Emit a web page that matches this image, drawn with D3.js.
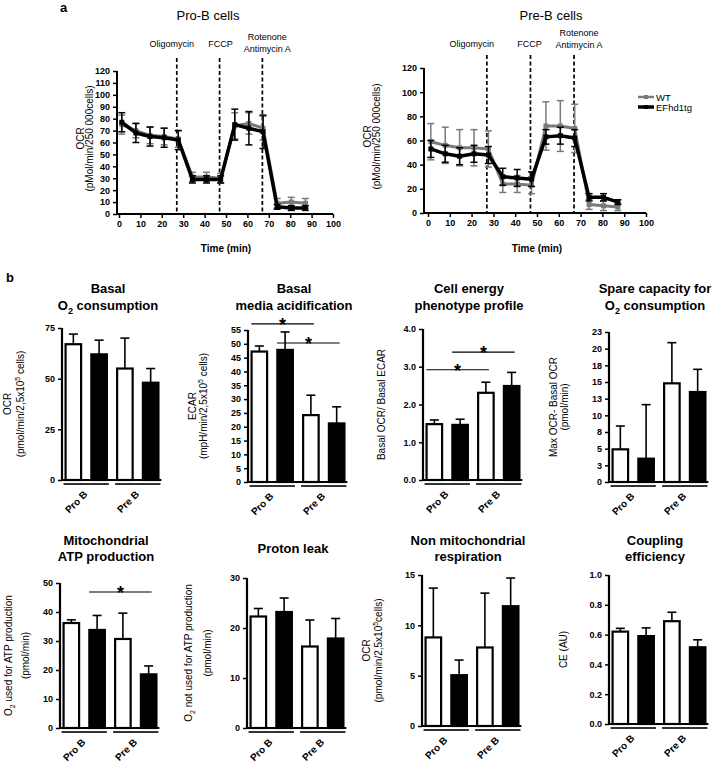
<!DOCTYPE html>
<html>
<head>
<meta charset="utf-8">
<script src="https://cdn.jsdelivr.net/npm/d3@7"></script>
<style>
  body { margin: 0; background: #fff; }
  svg { display: block; font-family: "Liberation Sans", Arial, sans-serif; }
</style>
</head>
<body>
<svg id="fig" width="722" height="766"></svg>
<script>
// ---- panel a : OCR time course ----
const timePoints = [1.3, 7.9, 14.5, 21.1, 27.7, 34.3, 40.9, 47.5, 54.1, 60.7, 67.3, 73.9, 80.5, 87.1]
const injectTimes = [27, 47, 67]
const injectNames = [['Oligomycin'], ['FCCP'], ['Rotenone', 'Antimycin A']]
const timeTicks = [0, 10, 20, 30, 40, 50, 60, 70, 80, 90, 100]

const proWT = [75, 70, 66, 65, 63, 31, 31, 30, 74, 76, 72, 9, 10, 9]
const proWTerr = [8, 6, 7, 7, 7, 4, 4, 4, 11, 9, 10, 4, 4, 4]
const proTg = [77, 68, 65, 64, 62, 29, 29, 29, 75, 72, 69, 6, 5, 5]
const proTgErr = [8, 8, 8, 8, 8, 3, 3, 3, 13, 14, 14, 2, 2, 2]

const preWT = [59, 56, 54, 54, 53, 24, 24, 23, 72, 72, 70, 7, 6, 5]
const preWTerr = [15, 15, 15, 15, 15, 7, 7, 7, 20, 21, 20, 4, 4, 3]
const preTg = [53, 49, 47, 49, 48, 30, 29, 28, 63, 64, 62, 13, 13, 9]
const preTgErr = [7, 7, 7, 7, 7, 7, 7, 6, 6, 7, 7, 3, 3, 2]

const legendNames = ['WT', 'EFhd1tg']

// ---- panel b : bar charts (order: Pro B WT, Pro B tg, Pre B WT, Pre B tg) ----
const groups = ['Pro B', 'Pre B']
const barTitles = [
  ['Basal', 'O_2 consumption'], ['Basal', 'media  acidification'],
  ['Cell energy', 'phenotype profile'], ['Spare capacity for', 'O_2 consumption'],
  ['Mitochondrial', 'ATP production'], ['Proton leak'],
  ['Non mitochondrial', 'respiration'], ['Coupling', 'efficiency']
]
const barYLabels = [
  ['OCR', '(pmol/min/2,5x10^5 cells)'], ['ECAR', '(mpH/min/2,5x10^5 cells)'],
  ['Basal OCR/ Basal ECAR'], ['Max OCR- Basal OCR', '(pmol/min)'],
  ['O_2 used for ATP production', '(pmol/min)'], ['O_2 not used for ATP production', '(pmol/min)'],
  ['OCR', '(pmol/min/2,5x10^5cells)'], ['CE  (AU)']
]
const basalOCR = [67, 62, 55, 48]
const basalOCRerr = [5, 7, 15, 7]
const basalECAR = [47.2, 47.8, 24.2, 21.2]
const basalECARerr = [2, 6.5, 7.2, 6]
const energyRatio = [1.48, 1.46, 2.31, 2.49]
const energyRatioErr = [0.11, 0.15, 0.28, 0.36]
const spareCapacity = [4.9, 3.5, 14.8, 13.5]
const spareCapacityErr = [3.5, 8.1, 6.1, 3.4]
const atpProduction = [36.2, 33.8, 30.7, 18.5]
const atpProductionErr = [1.1, 5, 8.9, 2.9]
const protonLeak = [22.3, 23.2, 16.3, 17.9]
const protonLeakErr = [1.6, 2.8, 5.3, 4]
const nonMito = [8.8, 5.05, 7.8, 11.9]
const nonMitoErr = [4.9, 1.5, 5.4, 2.8]
const coupling = [0.62, 0.59, 0.69, 0.515]
const couplingErr = [0.022, 0.055, 0.06, 0.05]

const barValues = [basalOCR, basalECAR, energyRatio, spareCapacity, atpProduction, protonLeak, nonMito, coupling]
const barErrors = [basalOCRerr, basalECARerr, energyRatioErr, spareCapacityErr, atpProductionErr, protonLeakErr, nonMitoErr, couplingErr]
const barTicks = [
  [0, 25, 50, 75],
  [0, 5, 10, 15, 20, 25, 30, 35, 40, 45, 50, 55],
  [0, 1, 2, 3, 4],
  [0, 2.5, 5, 7.5, 10, 12.5, 15, 17.5, 20, 22.5],
  [0, 10, 20, 30, 40, 50],
  [0, 10, 20, 30],
  [0, 5, 10, 15],
  [0, 0.2, 0.4, 0.6, 0.8, 1.0]
]
const tickFormats = [d3.format('d'), d3.format('d'), d3.format('.1f'), d => Math.round(d), d3.format('d'), d3.format('d'), d3.format('d'), d3.format('.1f')]
// significance: [fromBar, toBar, y value]
const sigBars = [[], [[0, 2, 57.2], [1, 3, 50.3]], [[0, 2, 2.92], [1, 3, 3.39]], [], [[1, 3, 46.9]], [], [], []]

// layout
const axisXs = [62, 248, 423, 609, 60, 247, 422, 609]
const axisBottoms = [480, 482, 480, 482, 728, 728, 726, 724]
const axisTops = [328, 330, 329, 332, 583, 578, 575, 575]
const titleBase = [[293, 310], [545, 561]]
const labelOffsets = [[-51, -38], [-52, -41], [-38], [-52, -41], [-48, -31], [-55, -36], [-52, -40], [-42]]

const svg = d3.select('#fig')

// text with _2 (subscript) and ^5 (superscript) markers
function richText(sel, str, size) {
  const parts = str.split(/([_^]\d)/).filter(s => s !== '')
  let shift = 0
  parts.forEach(p => {
    if (p[0] === '_' || p[0] === '^') {
      const dy = p[0] === '_' ? size * 0.3 : -size * 0.4
      sel.append('tspan').attr('dy', dy - shift).style('font-size', (size * 0.7) + 'px').text(p.slice(1))
      shift = dy
    } else {
      sel.append('tspan').attr('dy', -shift).text(p)
      shift = 0
    }
  })
}

function timeCourse(cfg) {
  const g = svg.append('g')
  const x = d3.scaleLinear().domain([0, 100]).range(cfg.xRange)
  const y = d3.scaleLinear().domain([0, 120]).range(cfg.yRange)

  g.append('text').attr('x', cfg.titleX).attr('y', 20).attr('text-anchor', 'middle')
    .style('font-size', '13px').text(cfg.title)

  // injections
  g.selectAll('line.inj').data(injectTimes).join('line')
    .attr('x1', d => x(d)).attr('x2', d => x(d))
    .attr('y1', cfg.dashTop).attr('y2', y(0))
    .attr('stroke', '#000').attr('stroke-width', 1.7).attr('stroke-dasharray', '4,2.5')
  injectNames.forEach((names, i) => {
    names.forEach((n, j) => {
      g.append('text').attr('x', x(injectTimes[i]) + cfg.drugDx[i])
        .attr('y', cfg.drugY[i] + j * 12).attr('text-anchor', 'middle')
        .style('font-size', '9px').text(n)
    })
  })

  // axes
  const xa = g.append('g').attr('transform', `translate(0,${y(0)})`)
    .call(d3.axisBottom(x).tickValues(timeTicks).tickSize(4).tickPadding(3))
    .attr('font-family', null).attr('font-size', null)
  xa.select('.domain').remove()
  xa.append('line').attr('x1', cfg.axisX).attr('x2', x(100)).attr('stroke', '#000').attr('stroke-width', 2)
  xa.selectAll('.tick line').attr('stroke-width', 1.5)
  xa.selectAll('text').style('font-size', '9px').style('font-weight', 'bold').attr('fill', '#000')

  const ya = g.append('g').attr('transform', `translate(${cfg.axisX},0)`)
    .call(d3.axisLeft(y).tickValues(d3.range(0, 121, cfg.yStep)).tickSize(4).tickPadding(3))
    .attr('font-family', null).attr('font-size', null)
  ya.select('.domain').attr('stroke-width', 2).attr('d', `M0,${y(0)}V${y(120)}`)
  ya.selectAll('.tick line').attr('stroke-width', 1.5)
  ya.selectAll('text').style('font-size', '9px').style('font-weight', 'bold').attr('fill', '#000')

  g.append('text').attr('x', d3.mean(cfg.xRange)).attr('y', 252).attr('text-anchor', 'middle')
    .style('font-size', '10px').style('font-weight', 'bold').text('Time (min)')
  const yMid = d3.mean(cfg.yRange) - 4
  g.append('text').attr('transform', `translate(${cfg.labelX[0]},${yMid}) rotate(-90)`)
    .attr('text-anchor', 'middle').style('font-size', '10px').text('OCR')
  g.append('text').attr('transform', `translate(${cfg.labelX[1]},${yMid}) rotate(-90)`)
    .attr('text-anchor', 'middle').style('font-size', '10px').text('(pMol/min/250 000cells)')

  const series = [
    { v: cfg.wt, e: cfg.wtErr, color: '#7a7a7a', w: 3 },
    { v: cfg.tg, e: cfg.tgErr, color: '#000', w: 3.5 }
  ]
  const line = d3.line().x((d, i) => x(timePoints[i])).y(d => y(d))
  series.forEach(s => {
    const sg = g.append('g')
    // error bars
    sg.selectAll('line.eb').data(s.v).join('line')
      .attr('x1', (d, i) => x(timePoints[i])).attr('x2', (d, i) => x(timePoints[i]))
      .attr('y1', (d, i) => y(d - s.e[i])).attr('y2', (d, i) => y(d + s.e[i]))
      .attr('stroke', s.color).attr('stroke-width', 1.5)
    ;[-1, 1].forEach(sign => {
      sg.selectAll(null).data(s.v).join('line')
        .attr('x1', (d, i) => x(timePoints[i]) - 3.5).attr('x2', (d, i) => x(timePoints[i]) + 3.5)
        .attr('y1', (d, i) => y(d + sign * s.e[i])).attr('y2', (d, i) => y(d + sign * s.e[i]))
        .attr('stroke', s.color).attr('stroke-width', 1.5)
    })
    sg.append('path').datum(s.v).attr('d', line).attr('fill', 'none')
      .attr('stroke', s.color).attr('stroke-width', s.w).attr('stroke-linejoin', 'round')
    sg.selectAll('rect').data(s.v).join('rect')
      .attr('x', (d, i) => x(timePoints[i]) - 2.5).attr('y', d => y(d) - 2.5)
      .attr('width', 5).attr('height', 5).attr('fill', s.color)
  })

  if (cfg.legend) {
    legendNames.forEach((n, i) => {
      const ly = cfg.legend[1] + i * 10
      const c = i === 0 ? '#7a7a7a' : '#000'
      g.append('line').attr('x1', cfg.legend[0]).attr('x2', cfg.legend[0] + 16)
        .attr('y1', ly).attr('y2', ly).attr('stroke', c).attr('stroke-width', i === 0 ? 2.5 : 3.5)
      g.append('rect').attr('x', cfg.legend[0] + 6).attr('y', ly - 2).attr('width', 4).attr('height', 4).attr('fill', c)
      g.append('text').attr('x', cfg.legend[0] + 18).attr('y', ly + 3.5)
        .style('font-size', '9.5px').text(n)
    })
  }
}

svg.append('text').attr('x', 60).attr('y', 12).style('font-size', '13px').style('font-weight', 'bold').text('a')
svg.append('text').attr('x', 6).attr('y', 282).style('font-size', '13px').style('font-weight', 'bold').text('b')

timeCourse({
  title: 'Pro-B cells', titleX: 208,
  xRange: [119, 333], yRange: [214, 71], axisX: 117, yStep: 10,
  dashTop: 58, drugDx: [-5, 1, 5], drugY: [47, 47, 40], labelX: [84, 93],
  wt: proWT, wtErr: proWTerr, tg: proTg, tgErr: proTgErr
})
timeCourse({
  title: 'Pre-B cells', titleX: 551,
  xRange: [428, 646], yRange: [213, 68], axisX: 424, yStep: 20,
  dashTop: 55, drugDx: [-15, -1, 5], drugY: [47, 47, 36], labelX: [371, 380],
  wt: preWT, wtErr: preWTerr, tg: preTg, tgErr: preTgErr,
  legend: [638, 97]
})

// ---- panel b ----
function barPanel(p) {
  const g = svg.append('g')
  const ax = axisXs[p]
  const row = p < 4 ? 0 : 1
  const vals = barValues[p], errs = barErrors[p], ticks = barTicks[p]
  const x = d3.scaleBand().domain(d3.range(4)).range([ax, ax + 100]).paddingInner(0.32).paddingOuter(0.1)
  const y = d3.scaleLinear().domain([0, d3.max(ticks)]).range([axisBottoms[p], axisTops[p]])
  const cx = i => x(i) + x.bandwidth() / 2

  // title
  const tl = barTitles[p]
  tl.forEach((t, j) => {
    const ty = tl.length === 1 ? (titleBase[row][0] + titleBase[row][1]) / 2 : titleBase[row][j]
    const txt = g.append('text').attr('x', ax + 46).attr('y', ty).attr('text-anchor', 'middle')
      .style('font-size', '13px').style('font-weight', 'bold')
    richText(txt, t, 13)
  })

  // y label
  const yMid = (axisBottoms[p] + axisTops[p]) / 2
  barYLabels[p].forEach((t, j) => {
    const txt = g.append('text').attr('transform', `translate(${ax + labelOffsets[p][j]},${yMid}) rotate(-90)`)
      .attr('text-anchor', 'middle').style('font-size', '10px')
    richText(txt, t, 10)
  })

  // bars
  g.selectAll('rect.bar').data(vals).join('rect')
    .attr('x', (d, i) => x(i) + 1).attr('width', x.bandwidth() - 2)
    .attr('y', d => y(d)).attr('height', d => y(0) - y(d))
    .attr('fill', (d, i) => i % 2 === 0 ? '#fff' : '#000')
    .attr('stroke', '#000').attr('stroke-width', 2.2)

  // error bars (upper only)
  g.selectAll('line.err').data(vals).join('line')
    .attr('x1', (d, i) => cx(i)).attr('x2', (d, i) => cx(i))
    .attr('y1', d => y(d)).attr('y2', (d, i) => y(d + errs[i]))
    .attr('stroke', '#000').attr('stroke-width', 1.6)
  g.selectAll('line.cap').data(vals).join('line')
    .attr('x1', (d, i) => cx(i) - 4.5).attr('x2', (d, i) => cx(i) + 4.5)
    .attr('y1', (d, i) => y(d + errs[i])).attr('y2', (d, i) => y(d + errs[i]))
    .attr('stroke', '#000').attr('stroke-width', 1.6)

  // axes
  const ya = g.append('g').attr('transform', `translate(${ax},0)`)
    .call(d3.axisLeft(y).tickValues(ticks).tickFormat(tickFormats[p]).tickSize(4).tickPadding(3))
    .attr('font-family', null).attr('font-size', null)
  ya.select('.domain').attr('stroke-width', 2.2).attr('d', `M0,${y(0)}V${y(d3.max(ticks))}`)
  ya.selectAll('.tick line').attr('stroke-width', 1.5)
  ya.selectAll('text').style('font-size', '9px').style('font-weight', 'bold').attr('fill', '#000')
  g.append('line').attr('x1', ax).attr('x2', x(3) + x.bandwidth() + 2)
    .attr('y1', y(0)).attr('y2', y(0)).attr('stroke', '#000').attr('stroke-width', 2.2)

  // group underline + labels
  groups.forEach((gr, k) => {
    const x1 = x(2 * k) - 1, x2 = x(2 * k + 1) + x.bandwidth() + 1
    g.append('line').attr('x1', x1).attr('x2', x2).attr('y1', y(0) + 4).attr('y2', y(0) + 4)
      .attr('stroke', '#333').attr('stroke-width', 2)
    g.append('text').attr('transform', `translate(${(x1 + x2) / 2 + 2},${y(0) + 15}) rotate(-45)`)
      .attr('text-anchor', 'end').style('font-size', '10px').style('font-weight', 'bold').text(gr)
  })

  // significance
  sigBars[p].forEach(s => {
    const x1 = cx(s[0]) - 8, x2 = cx(s[1]) + 3
    g.append('line').attr('x1', x1).attr('x2', x2).attr('y1', y(s[2])).attr('y2', y(s[2]))
      .attr('stroke', '#000').attr('stroke-width', 1.2)
    g.append('text').attr('x', (x1 + x2) / 2).attr('y', y(s[2]) + 7).attr('text-anchor', 'middle')
      .style('font-size', '18px').style('font-weight', 'bold').text('*')
  })
}

d3.range(8).forEach(barPanel)
</script>
</body>
</html>
